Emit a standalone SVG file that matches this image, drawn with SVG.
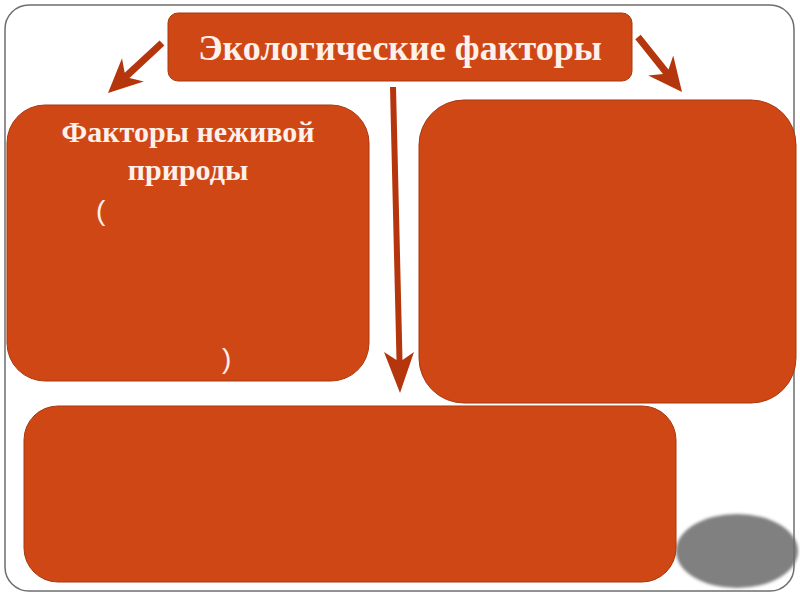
<svg xmlns="http://www.w3.org/2000/svg" width="800" height="600" viewBox="0 0 800 600">
<defs>
<style>
.box{fill:#d04716;stroke:#a8380f;stroke-width:1}
.arr{fill:#b5360c}
.t{font-family:"Liberation Serif","Times New Roman",serif;font-weight:bold;fill:#fdf1ec;text-anchor:middle}
.p{font-family:"Liberation Sans",Arial,sans-serif;fill:#fdf1ec;font-size:28px}
</style>
<filter id="blur" x="-10%" y="-10%" width="120%" height="120%"><feGaussianBlur stdDeviation="1.5"/></filter>
</defs>
<rect width="800" height="600" fill="#ffffff"/>
<g id="ellipse"><ellipse cx="737" cy="551" rx="61" ry="37" fill="#808080" filter="url(#blur)"/></g>
<rect id="frame" x="5" y="5" width="789" height="586" rx="24" fill="none" stroke="#6e6e6e" stroke-width="1.5"/>
<g id="node-title">
<rect class="box" x="168" y="13" width="464" height="68" rx="10"/>
<text class="t" x="400" y="60" font-size="36">Экологические факторы</text>
</g>
<g id="node-left">
<rect class="box" x="7" y="105" width="362" height="276" rx="38"/>
<text class="t" x="188" y="142" font-size="30">Факторы неживой</text>
<text class="t" x="188" y="180" font-size="30">природы</text>
<text class="p" x="96" y="220">(</text>
<text class="p" x="222" y="368">)</text>
</g>
<g id="node-right"><rect class="box" x="419" y="100" width="377" height="303" rx="45"/></g>
<g id="node-bottom"><rect class="box" x="24" y="406" width="652" height="176" rx="34"/></g>
<g id="connectors">
<polygon class="arr" points="159.6,40.4 164.4,45.6 129.5,77.9 143.8,81.6 108,93 122,58.2 124.7,72.7"/>
<polygon class="arr" points="640.7,34.8 635.3,39.2 663,73.9 648.25,75.4 682,92 673.25,55.4 668.5,69.5"/>
<polygon class="arr" points="390,87 396,87 402.5,360 414,352 400,393 384,352 396.5,360"/>
</g>
</svg>
